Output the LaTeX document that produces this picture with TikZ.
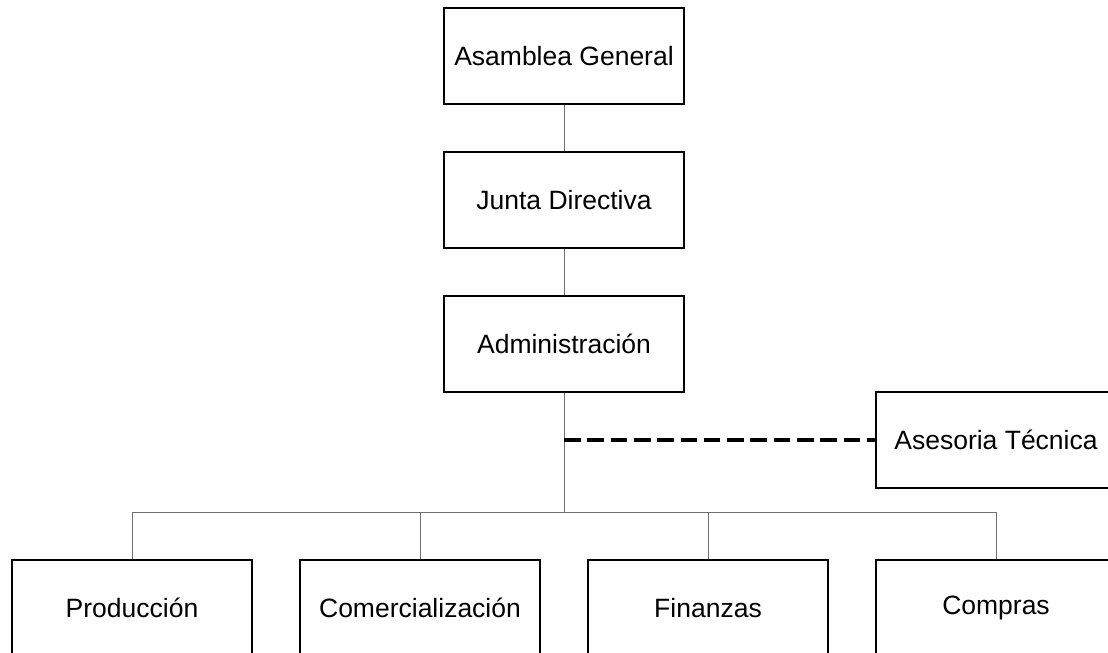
\documentclass[tikz,border=0pt]{standalone}
\usepackage{fontspec}
\setmainfont{Liberation Sans}
\definecolor{linegray}{RGB}{112,112,112}
\begin{document}
\begin{tikzpicture}[x=0.5pt, y=-0.5pt,
  box/.style={draw, line width=1pt, minimum width=120pt, minimum height=48pt,
    font=\fontsize{13.25}{16}\selectfont},
  link/.style={draw=linegray, line width=0.5pt},
  staff/.style={draw=black, line width=1.6pt, dash pattern=on 8.3pt off 3.35pt}]
  \useasboundingbox (0,0) rectangle (1108,653);
  \node[box] (asamblea) at (564,56) {Asamblea General};
  \node[box] (junta) at (564,200) {Junta Directiva};
  \node[box] (admin) at (564,344) {Administración};
  \node[box] (asesoria) at (996,440) {Asesoria Técnica};
  \node[box] (produccion) at (132,608) {Producción};
  \node[box] (comercial) at (420,608) {Comercialización};
  \node[box] (finanzas) at (708,608) {Finanzas};
  \node[box] (compras) at (996,608) {Compras};
  \coordinate (bus) at (564,512);
  \draw[link] (asamblea) -- (junta);
  \draw[link] (junta) -- (admin);
  \draw[link] (admin) -- (bus);
  \foreach \n in {produccion, comercial, finanzas, compras}
    \draw[link] (bus) -| (\n.north);
  \draw[staff] (admin.south |- asesoria.west) -- (asesoria.west);
\end{tikzpicture}
\end{document}
